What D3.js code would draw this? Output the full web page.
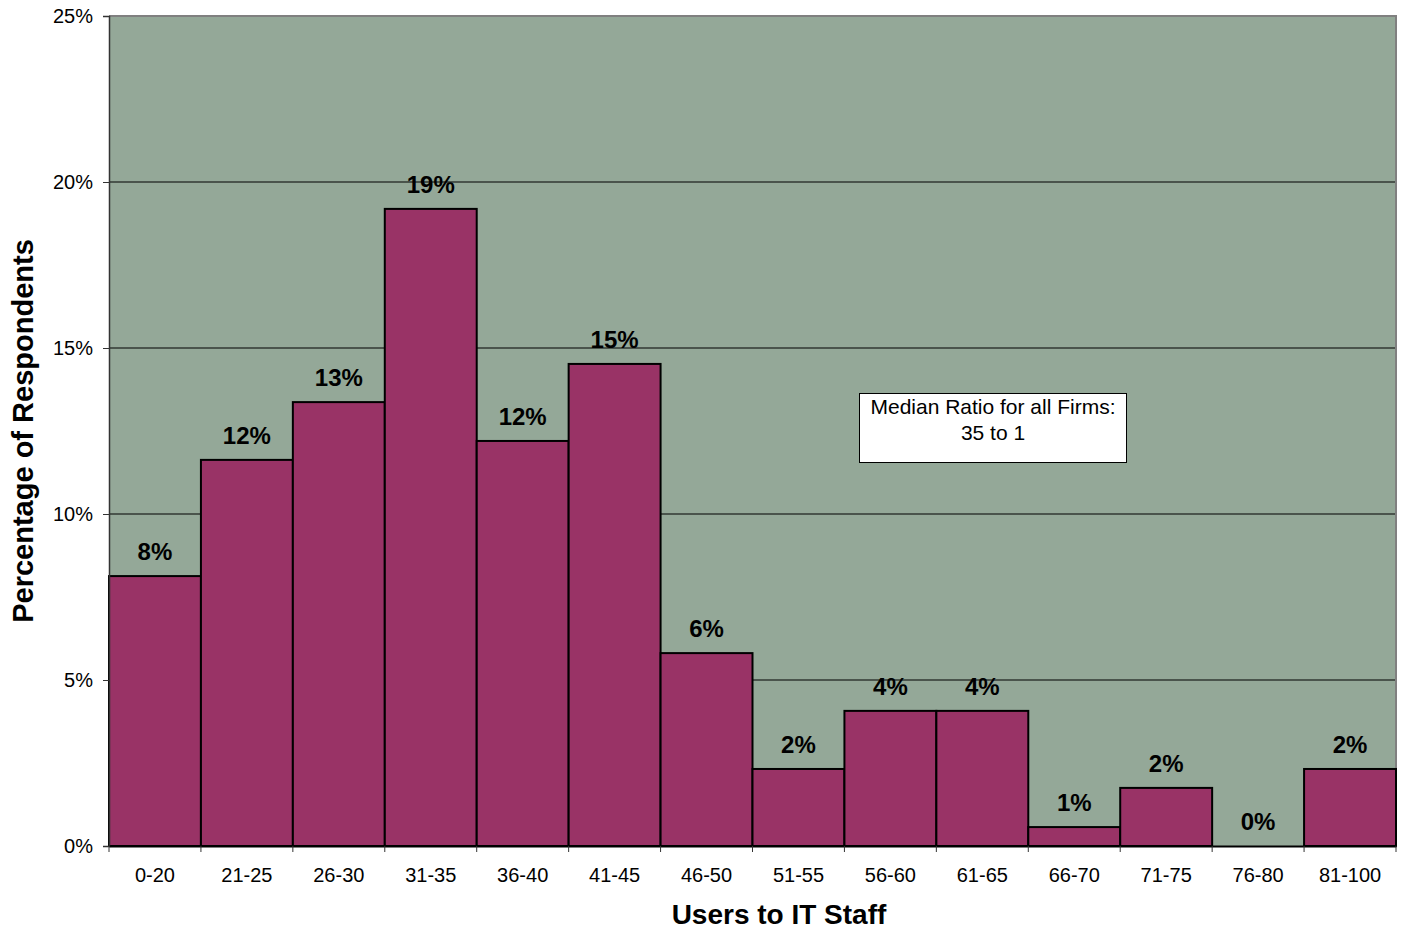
<!DOCTYPE html>
<html>
<head>
<meta charset="utf-8">
<script src="https://cdn.jsdelivr.net/npm/d3@7"></script>
<style>
  html, body { margin: 0; padding: 0; background: #ffffff; }
  svg { display: block; font-family: Arial, "Liberation Sans", sans-serif; }
</style>
</head>
<body>
<svg id="chart" width="1403" height="930"></svg>
<script>
// Ratio of users to IT staff, share of respondents per bracket
const categories = ["0-20", "21-25", "26-30", "31-35", "36-40", "41-45", "46-50",
                    "51-55", "56-60", "61-65", "66-70", "71-75", "76-80", "81-100"];
const shares = [0.0813, 0.1163, 0.1337, 0.1919, 0.1220, 0.1452, 0.0581,
                0.0232, 0.0407, 0.0407, 0.0057, 0.0175, 0.0, 0.0232];
const yTicks = [0, 0.05, 0.10, 0.15, 0.20, 0.25];
const noteLines = ["Median Ratio for all Firms:", "35 to 1"];

const FONT = "Arial, 'Liberation Sans', sans-serif";
const svg = d3.select("#chart");
const plot = { left: 109, right: 1396, top: 16, bottom: 846 };

const x = d3.scaleBand().domain(categories).range([plot.left, plot.right]).padding(0);
const y = d3.scaleLinear().domain([0, 0.25]).range([plot.bottom, plot.top]);
const pct = d3.format(".0%");

// plot area
svg.append("rect")
  .attr("x", plot.left).attr("y", plot.top)
  .attr("width", plot.right - plot.left).attr("height", plot.bottom - plot.top)
  .attr("fill", "#94a898");

// horizontal gridlines
svg.append("g").selectAll("line")
  .data(yTicks.filter(t => t > 0 && t < 0.25))
  .join("line")
  .attr("x1", plot.left).attr("x2", plot.right)
  .attr("y1", d => y(d)).attr("y2", d => y(d))
  .attr("stroke", "#000").attr("stroke-width", 1);

// frame on top and right
svg.append("path")
  .attr("d", `M${plot.left},${plot.top}H${plot.right}V${plot.bottom}`)
  .attr("fill", "none").attr("stroke", "#808080").attr("stroke-width", 2);

// bars
svg.append("g").selectAll("rect")
  .data(categories.map((c, i) => ({ c, v: shares[i] })).filter(d => d.v > 0))
  .join("rect")
  .attr("x", d => x(d.c)).attr("width", x.bandwidth())
  .attr("y", d => y(d.v)).attr("height", d => y(0) - y(d.v))
  .attr("fill", "#993366").attr("stroke", "#000").attr("stroke-width", 2);

// value labels
svg.append("g").selectAll("text")
  .data(categories.map((c, i) => ({ c, v: shares[i] })))
  .join("text")
  .attr("x", d => x(d.c) + x.bandwidth() / 2)
  .attr("y", d => y(d.v) - 16)
  .attr("text-anchor", "middle")
  .attr("font-size", 24).attr("font-weight", "bold").attr("fill", "#000")
  .text(d => pct(d.v));

// y axis
const yAxis = svg.append("g")
  .attr("transform", `translate(${plot.left},0)`)
  .call(d3.axisLeft(y).tickValues(yTicks).tickFormat(pct).tickSize(6).tickPadding(10));
yAxis.select(".domain").attr("stroke", "#333").attr("stroke-width", 1.5);
yAxis.selectAll(".tick line").attr("stroke", "#333");
yAxis.selectAll("text").attr("font-size", 20).attr("font-family", FONT).attr("fill", "#000");

// x axis
const xAxis = svg.append("g")
  .attr("transform", `translate(0,${plot.bottom})`)
  .call(d3.axisBottom(x).tickSize(0).tickPadding(22));
xAxis.select(".domain").attr("stroke", "#000").attr("stroke-width", 2);
xAxis.selectAll("text").attr("font-size", 20).attr("font-family", FONT).attr("fill", "#000");
// tick marks on the category boundaries
svg.append("g").selectAll("line")
  .data(categories.map(c => x(c)).concat([plot.right]))
  .join("line")
  .attr("x1", d => d).attr("x2", d => d)
  .attr("y1", plot.bottom).attr("y2", plot.bottom + 6)
  .attr("stroke", "#333").attr("stroke-width", 1);

// axis titles
svg.append("text")
  .attr("x", 779).attr("y", 924)
  .attr("text-anchor", "middle")
  .attr("font-size", 28).attr("font-weight", "bold")
  .text("Users to IT Staff");

svg.append("text")
  .attr("transform", `translate(33,431) rotate(-90)`)
  .attr("text-anchor", "middle")
  .attr("font-size", 29).attr("font-weight", "bold")
  .text("Percentage of Respondents");

// median note
const note = svg.append("g");
note.append("rect")
  .attr("x", 859.5).attr("y", 393.5).attr("width", 267).attr("height", 69)
  .attr("fill", "#fff").attr("stroke", "#000").attr("stroke-width", 1);
note.selectAll("text")
  .data(noteLines)
  .join("text")
  .attr("x", 993).attr("y", (d, i) => 414 + i * 26)
  .attr("text-anchor", "middle")
  .attr("font-size", 21).attr("fill", "#000")
  .text(d => d);
</script>
</body>
</html>
